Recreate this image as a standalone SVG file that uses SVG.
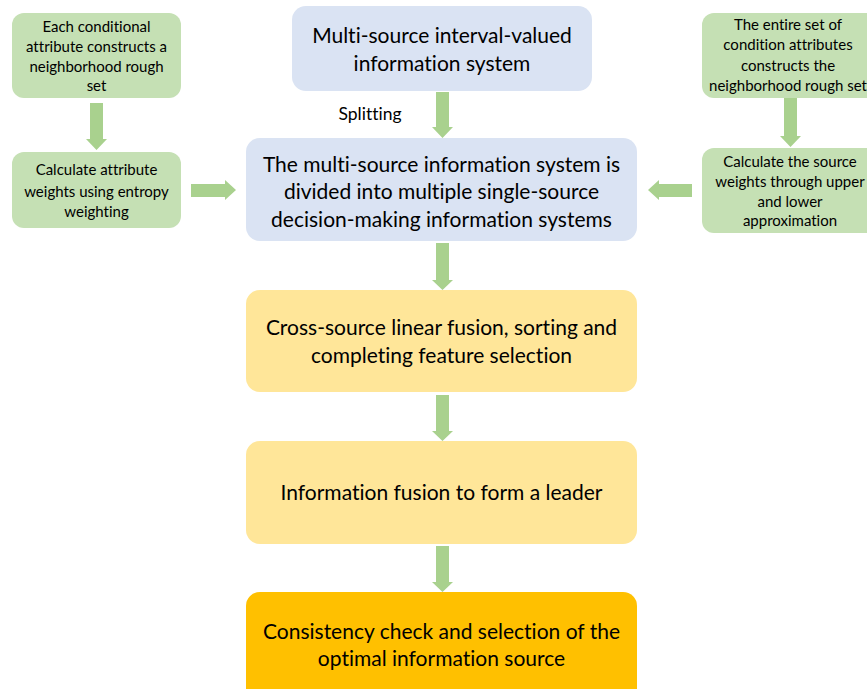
<svg xmlns="http://www.w3.org/2000/svg" width="867" height="689" viewBox="0 0 867 689">
<defs>
<style>
.g{fill:#C5E0B4}
.b{fill:#DAE3F3}
.y{fill:#FFE699}
.o{fill:#FFC000}
.ar{fill:#A9D18E}
text{font-family:Lato,"Liberation Sans",sans-serif;fill:#000;text-anchor:middle;font-variant-ligatures:none;font-feature-settings:"liga" 0}
.s{font-size:15px}
.m{font-size:21px}
</style>
</defs>
<g id="connectors">
<polygon class="ar" points="90,103 103,103 103,139 107,139 96.5,150 86,139 90,139"/>
<polygon class="ar" points="191,184 225,184 225,180 236,190 225,200 225,197 191,197"/>
<polygon class="ar" points="784,98 797,98 797,136 801,136 790.5,147 780,136 784,136"/>
<polygon class="ar" points="692,184 659,184 659,180 648,190 659,200 659,197 692,197"/>
<polygon class="ar" points="436,92 449,92 449,127 453,127 442.5,138 432,127 436,127"/>
<polygon class="ar" points="436,243 449,243 449,280 453,280 442.5,290 432,280 436,280"/>
<polygon class="ar" points="436,395 449,395 449,431 453,431 442.5,441 432,431 436,431"/>
<polygon class="ar" points="436,546 449,546 449,582 453,582 442.5,592 432,582 436,582"/>
<text x="370" y="120" style="font-size:17.5px">Splitting</text>
</g>
<g id="n1">
<rect class="g" x="12" y="13" width="169" height="85" rx="12"/>
<text class="s" x="96.5" y="32">Each conditional</text>
<text class="s" x="96.5" y="52">attribute constructs a</text>
<text class="s" x="96.5" y="72">neighborhood rough</text>
<text class="s" x="96.5" y="91">set</text>
</g>
<g id="n2">
<rect class="g" x="12" y="152" width="169" height="76" rx="12"/>
<text class="s" x="96.5" y="175">Calculate attribute</text>
<text class="s" x="96.5" y="197">weights using entropy</text>
<text class="s" x="96.5" y="217">weighting</text>
</g>
<g id="n3">
<rect class="g" x="702" y="13" width="176" height="85" rx="12"/>
<text class="s" x="788" y="30">The entire set of</text>
<text class="s" x="788" y="50">condition attributes</text>
<text class="s" x="788" y="71">constructs the</text>
<text class="s" x="788" y="91">neighborhood rough set</text>
</g>
<g id="n4">
<rect class="g" x="702" y="148" width="176" height="85" rx="12"/>
<text class="s" x="790" y="167">Calculate the source</text>
<text class="s" x="790" y="187">weights through upper</text>
<text class="s" x="790" y="207">and lower</text>
<text class="s" x="790" y="226">approximation</text>
</g>
<g id="n5">
<rect class="b" x="292" y="6" width="300" height="85" rx="14"/>
<text class="m" x="442" y="43">Multi-source interval-valued</text>
<text class="m" x="442" y="71">information system</text>
</g>
<g id="n6">
<rect class="b" x="246" y="138" width="391" height="103" rx="14"/>
<text class="m" x="441.5" y="172">The multi-source information system is</text>
<text class="m" x="441.5" y="199">divided into multiple single-source</text>
<text class="m" x="441.5" y="227">decision-making information systems</text>
</g>
<g id="n7">
<rect class="y" x="246" y="290" width="391" height="102" rx="14"/>
<text class="m" x="441.5" y="335">Cross-source linear fusion, sorting and</text>
<text class="m" x="441.5" y="363">completing feature selection</text>
</g>
<g id="n8">
<rect class="y" x="246" y="441" width="391" height="103" rx="14"/>
<text class="m" x="441.5" y="500">Information fusion to form a leader</text>
</g>
<g id="n9">
<rect class="o" x="246" y="592" width="391" height="110" rx="14"/>
<text class="m" x="441.5" y="639">Consistency check and selection of the</text>
<text class="m" x="441.5" y="666">optimal information source</text>
</g>
</svg>
